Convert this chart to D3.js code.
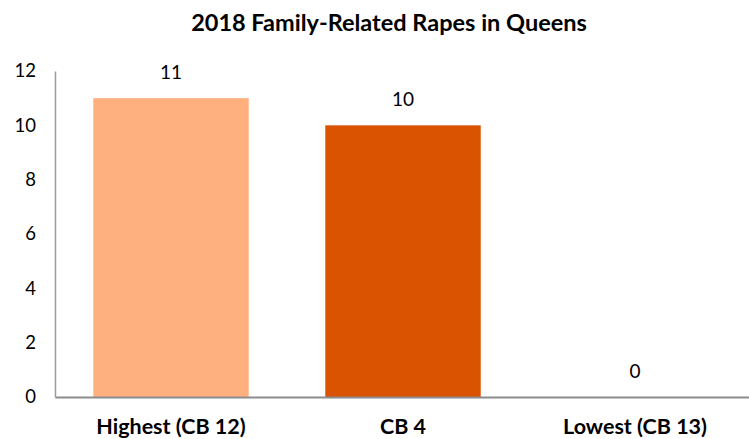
<!DOCTYPE html>
<html>
<head>
<meta charset="utf-8">
<script src="https://cdn.jsdelivr.net/npm/d3@7"></script>
<style>
  html, body { margin: 0; padding: 0; background: #fff; }
  svg { display: block; font-family: Lato, "Open Sans", sans-serif; }
</style>
</head>
<body>
<svg id="chart" width="749" height="439"></svg>
<script>
const categories = ["Highest (CB 12)", "CB 4", "Lowest (CB 13)"];
const values = [11, 10, 0];
const barColors = ["#FFB07E", "#D95300", "#D95300"];
const yTicks = [0, 2, 4, 6, 8, 10, 12];
const title = "2018 Family-Related Rapes in Queens";

const svg = d3.select("#chart");
const W = 749, H = 439;
const margin = { left: 55, right: -2, top: 71, bottom: 42 };

const x = d3.scaleBand()
  .domain(categories)
  .range([margin.left, W - margin.right])
  .paddingInner(0.33)
  .paddingOuter(0.165);

const y = d3.scaleLinear()
  .domain([0, 12])
  .range([H - margin.bottom, margin.top]);

// title
svg.append("text")
  .attr("x", 389)
  .attr("y", 31)
  .attr("text-anchor", "middle")
  .attr("font-weight", "bold")
  .attr("font-size", 23.5)
  .attr("fill", "#000")
  .text(title);

// bars
svg.selectAll("rect.bar")
  .data(values)
  .join("rect")
  .attr("class", "bar")
  .attr("x", (d, i) => x(categories[i]))
  .attr("width", x.bandwidth())
  .attr("y", d => y(d))
  .attr("height", d => y(0) - y(d))
  .attr("fill", (d, i) => barColors[i]);

// value labels
svg.selectAll("text.val")
  .data(values)
  .join("text")
  .attr("class", "val")
  .attr("x", (d, i) => x(categories[i]) + x.bandwidth() / 2)
  .attr("y", d => y(d) - 19)
  .attr("text-anchor", "middle")
  .attr("font-size", 19)
  .attr("fill", "#000")
  .text(d => d);

// y axis
const yAxis = svg.append("g")
  .attr("transform", `translate(${margin.left},0)`)
  .call(d3.axisLeft(y).tickValues(yTicks).tickSize(0).tickPadding(19));
yAxis.select(".domain").attr("stroke", "#9a9a9a").attr("stroke-width", 1.5);
yAxis.selectAll("text").attr("font-size", 18.5).attr("fill", "#000")
  .attr("font-family", "Lato, sans-serif");

// x axis
const xAxis = svg.append("g")
  .attr("transform", `translate(0,${y(0)})`)
  .call(d3.axisBottom(x).tickSize(0).tickPadding(22));
xAxis.select(".domain").attr("stroke", "#8c8c8c").attr("stroke-width", 2);
xAxis.selectAll("text").attr("font-size", 21.5).attr("font-weight", "bold").attr("fill", "#000")
  .attr("font-family", "Lato, sans-serif");
</script>
</body>
</html>
